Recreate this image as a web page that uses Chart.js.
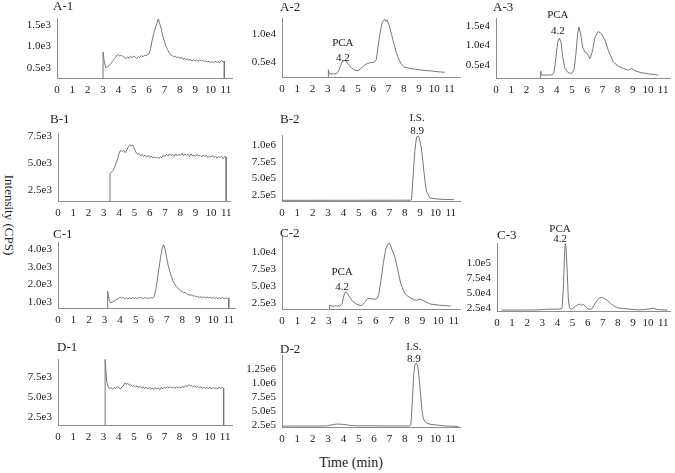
<!DOCTYPE html>
<html>
<head>
<meta charset="utf-8">
<script src="https://cdn.jsdelivr.net/npm/chart.js@4.4.0/dist/chart.umd.min.js"></script>
<style>
  html, body { margin: 0; padding: 0; background: #fff; }
  #fig { position: relative; width: 675px; height: 473px; overflow: hidden; background: #fff;
         font-family: "Liberation Serif", "DejaVu Serif", serif; color: #222; }
  #fig canvas { position: absolute; }
  .axis-title { position: absolute; white-space: nowrap; }
  #ylab { left: 9px; top: 215px; font-size: 13px; transform: translate(-50%, -50%) rotate(90deg); }
  #xlab { left: 351px; top: 463px; font-size: 14px; transform: translate(-50%, -50%); }
</style>
</head>
<body>
<div id="fig">
  <div id="ylab" class="axis-title">Intensity (CPS)</div>
  <div id="xlab" class="axis-title">Time (min)</div>
</div>
<script>
// time axis ticks (min)
const xTicks = [0, 1, 2, 3, 4, 5, 6, 7, 8, 9, 10, 11];

// 0.1 min grid for the noisy blank traces
const fineTime = [3.0, 3.1, 3.2, 3.3, 3.4, 3.5, 3.6, 3.7, 3.8, 3.9,
  4.0, 4.1, 4.2, 4.3, 4.4, 4.5, 4.6, 4.7, 4.8, 4.9,
  5.0, 5.1, 5.2, 5.3, 5.4, 5.5, 5.6, 5.7, 5.8, 5.9,
  6.0, 6.1, 6.2, 6.3, 6.4, 6.5, 6.6, 6.7, 6.8, 6.9,
  7.0, 7.1, 7.2, 7.3, 7.4, 7.5, 7.6, 7.7, 7.8, 7.9,
  8.0, 8.1, 8.2, 8.3, 8.4, 8.5, 8.6, 8.7, 8.8, 8.9,
  9.0, 9.1, 9.2, 9.3, 9.4, 9.5, 9.6, 9.7, 9.8, 9.9,
  10.0, 10.1, 10.2, 10.3, 10.4, 10.5, 10.6, 10.7, 10.8, 10.9, 11.0];

// A-1
const a1Values = [870, 600, 500, 540, 560, 600, 650, 700, 740, 800,
  810, 780, 800, 760, 740, 720, 760, 730, 770, 740,
  780, 750, 720, 770, 740, 790, 760, 800, 780, 820,
  830, 950, 1150, 1300, 1420, 1530, 1640, 1520, 1400, 1230,
  1120, 1000, 930, 860, 810, 790, 760, 780, 740, 760,
  720, 750, 700, 730, 690, 710, 680, 700, 660, 700,
  670, 690, 650, 690, 660, 680, 650, 670, 640, 660,
  630, 650, 620, 660, 630, 650, 620, 680, 640, 660, null];
const a1YTicks = [500, 1000, 1500];
const a1YLabels = ["0.5e3", "1.0e3", "1.5e3"];

// A-2
const a2Time = [3.05, 3.1, 3.4, 3.6, 3.75, 3.95, 4.1, 4.2, 4.4, 4.7, 5.0, 5.3, 5.6, 5.9, 6.05, 6.2, 6.3, 6.4, 6.5, 6.6,
  6.75, 6.82, 6.9, 7.05, 7.2, 7.35, 7.5, 7.7, 7.85, 8.0, 8.3, 8.6, 9.0, 9.4, 9.8, 10.2, 10.7];
const a2Values = [3600, 2900, 2850, 2950, 3600, 5050, 5250, 5200, 4450, 3600, 3400, 4150, 4750, 4900, 4950, 5400, 7500, 9500, 11000, 12200,
  12700, 12300, 12600, 11500, 10000, 8300, 6800, 5350, 4600, 4150, 3900, 3750, 3600, 3480, 3390, 3250, 3150];
const a2YTicks = [5000, 10000];
const a2YLabels = ["0.5e4", "1.0e4"];

// A-3
const a3Time = [2.94, 3.0, 3.4, 3.7, 3.82, 3.95, 4.06, 4.17, 4.28, 4.39, 4.54, 4.76, 4.98, 5.13, 5.26, 5.37, 5.46, 5.57, 5.7, 5.86,
  6.01, 6.18, 6.36, 6.51, 6.73, 6.95, 7.17, 7.39, 7.72, 8.05, 8.38, 8.7, 8.93, 9.14, 9.58, 10.13, 10.68];
const a3Values = [3500, 2500, 2500, 2550, 3330, 7080, 10830, 11900, 10830, 7080, 4170, 3080, 2920, 3750, 7920, 12920, 14750, 12920, 9580, 8330,
  7920, 6670, 8750, 12080, 13580, 12920, 11420, 8750, 5830, 4750, 4170, 3750, 4170, 3580, 3080, 2750, 2500];
const a3YTicks = [5000, 10000, 15000];
const a3YLabels = ["0.5e4", "1.0e4", "1.5e4"];

// B-1
const b1Values = [null, null, null, null, 4050, 4150, 4300, 4600, 5000, 5400,
  5900, 6200, 6050, 6150, 5950, 6200, 6500, 6700, 6600, 6650,
  6300, 6000, 5800, 5900, 5650, 5800, 5600, 5750, 5550, 5700,
  5500, 5650, 5450, 5600, 5450, 5550, 5400, 5600, 5500, 5750,
  5600, 5800, 5650, 5850, 5700, 5800, 5600, 5850, 5650, 5800,
  5700, 5900, 5650, 5850, 5700, 5800, 5600, 5850, 5650, 5750,
  5600, 5800, 5650, 5700, 5550, 5750, 5600, 5700, 5500, 5650,
  5550, 5700, 5500, 5650, 5450, 5600, 5500, 5650, 5400, 5600, 5550];
const b1YTicks = [2500, 5000, 7500];
const b1YLabels = ["2.5e3", "5.0e3", "7.5e3"];

// B-2
const b2Time = [0, 8.35, 8.44, 8.55, 8.65, 8.77, 8.88, 8.96, 9.1, 9.25, 9.35, 9.42, 9.64, 10.0, 10.5, 11.2];
const b2Values = [170000, 172000, 180000, 550000, 900000, 1120000, 1135000, 1100000, 925000, 600000, 400000, 300000, 207000, 192000, 185000, 180000];
const b2YTicks = [250000, 500000, 750000, 1000000];
const b2YLabels = ["2.5e5", "5.0e5", "7.5e5", "1.0e6"];

// C-1
const c1Values = [null, null, 1600, 1100, 950, 1000, 1050, 1100, 1150, 1200,
  1280, 1220, 1250, 1180, 1230, 1170, 1240, 1190, 1260, 1200,
  1250, 1180, 1270, 1210, 1250, 1190, 1260, 1200, 1240, 1210,
  1250, 1220, 1300, 1700, 2300, 2900, 3500, 4000, 4250, 4000,
  3500, 3050, 2750, 2450, 2200, 2050, 1900, 1800, 1700, 1620,
  1580, 1520, 1550, 1450, 1420, 1380, 1400, 1330, 1360, 1290,
  1330, 1260, 1300, 1240, 1290, 1230, 1280, 1220, 1270, 1210,
  1260, 1200, 1250, 1190, 1240, 1200, 1250, 1190, 1230, 1200, 1220];
const c1YTicks = [1000, 2000, 3000, 4000];
const c1YLabels = ["1.0e3", "2.0e3", "3.0e3", "4.0e3"];

// C-2
const c2Time = [3.05, 3.2, 3.5, 3.7, 3.85, 3.95, 4.05, 4.15, 4.3, 4.5, 4.8, 5.1, 5.3, 5.5, 5.7, 5.9, 6.1, 6.2, 6.35,
  6.5, 6.65, 6.8, 6.9, 7.05, 7.24, 7.4, 7.6, 7.8, 8.0, 8.2, 8.4, 8.6, 8.84, 9.1, 9.5, 10.0, 10.5, 10.8];
const c2Values = [2200, 2000, 2100, 2000, 2400, 3500, 4100, 4000, 3500, 2800, 2300, 2100, 2600, 3200, 3150, 3050, 3150, 3800, 6000,
  8500, 10500, 11200, 11300, 10300, 9200, 7500, 5400, 4200, 3600, 3300, 3000, 2900, 3100, 2800, 2350, 2200, 2100, 2050];
const c2YTicks = [2500, 5000, 7500, 10000];
const c2YLabels = ["2.5e3", "5.0e3", "7.5e3", "1.0e4"];

// C-3
const c3Time = [0.3, 2.5, 3.0, 3.5, 4.0, 4.3, 4.4, 4.47, 4.52, 4.57, 4.64, 4.72, 4.8, 4.95, 5.2, 5.45, 5.58, 5.72, 5.9, 6.1,
  6.3, 6.5, 6.7, 6.93, 7.1, 7.3, 7.5, 7.7, 7.95, 8.3, 8.6, 9.0, 9.4, 9.8, 10.1, 10.35, 10.6, 11.0, 11.3];
const c3Values = [21500, 21700, 22500, 23000, 23000, 24000, 60000, 115000, 132000, 125000, 90000, 40000, 25000, 23000, 28000, 31500, 29500, 31000, 26000, 22500,
  24000, 33000, 40000, 43000, 41000, 37500, 33000, 29000, 25500, 24000, 23500, 22500, 22000, 22500, 23500, 24500, 22500, 21800, 21500];
const c3YTicks = [25000, 50000, 75000, 100000];
const c3YLabels = ["2.5e4", "5.0e4", "7.5e4", "1.0e5"];

// D-1
const d1Values = [null, 9700, 7000, 6300, 6050, 6150, 6000, 6200, 6050, 6300,
  6150, 6000, 6250, 6400, 6750, 6600, 6700, 6450, 6550, 6300,
  6450, 6250, 6400, 6150, 6350, 6100, 6300, 6050, 6250, 6000,
  6200, 5950, 6150, 5950, 6200, 6000, 6150, 5900, 6200, 6000,
  6250, 6100, 6300, 6150, 6300, 6100, 6250, 6050, 6300, 6100,
  6250, 6100, 6350, 6200, 6450, 6300, 6550, 6400, 6450, 6250,
  6400, 6200, 6350, 6150, 6300, 6100, 6250, 6050, 6200, 6050,
  6250, 6000, 6200, 6050, 6150, 6000, 6250, 6050, 6200, 6100, null];
const d1YTicks = [2500, 5000, 7500];
const d1YLabels = ["2.5e3", "5.0e3", "7.5e3"];

// D-2
const d2Time = [0, 2.9, 3.2, 3.6, 4.0, 4.5, 5.0, 8.3, 8.4, 8.5, 8.58, 8.66, 8.75, 8.85, 8.95, 9.03, 9.12, 9.2, 9.3, 9.42, 9.7, 10.07, 10.7, 11.5];
const d2Values = [230000, 232000, 250000, 268000, 260000, 240000, 235000, 232000, 250000, 700000, 1150000, 1320000, 1360000, 1300000, 1050000, 790000, 520000, 380000, 310000, 286000, 260000, 250000, 232000, 225000];
const d2YTicks = [250000, 500000, 750000, 1000000, 1250000];
const d2YLabels = ["2.5e5", "5.0e5", "7.5e5", "1.0e6", "1.25e6"];

// layout: box = [axis x, plot top, plot right, plot bottom] in page px
const panels = [
  { title: "A-1", time: fineTime, values: a1Values, yMin: 270, yMax: 1660, yTicks: a1YTicks, yLabels: a1YLabels,
    xMax: 11.4, box: [57, 18, 232, 78], titleAt: [-4, -11], dropStart: true, dropEnd: true, notes: [] },
  { title: "A-2", time: a2Time, values: a2Values, yMin: 2300, yMax: 12900, yTicks: a2YTicks, yLabels: a2YLabels,
    xMax: 11.7, box: [282, 18, 460, 77], titleAt: [-2, -10], dropStart: true, dropEnd: false,
    notes: [{ x: 4.0, y: 5700, gap: 15, lines: ["PCA", "4.2"] }] },
  { title: "A-3", time: a3Time, values: a3Values, yMin: 1750, yMax: 17000, yTicks: a3YTicks, yLabels: a3YLabels,
    xMax: 11.45, box: [496, 18, 670, 78], titleAt: [-3, -10], dropStart: true, dropEnd: false,
    notes: [{ x: 4.07, y: 13750, gap: 16, lines: ["PCA", "4.2"] }] },
  { title: "B-1", time: fineTime, values: b1Values, yMin: 1480, yMax: 7780, yTicks: b1YTicks, yLabels: b1YLabels,
    xMax: 11.25, box: [58, 133, 230, 201], titleAt: [-8, -13], dropStart: true, dropEnd: true, notes: [] },
  { title: "B-2", time: b2Time, values: b2Values, yMin: 160000, yMax: 1150000, yTicks: b2YTicks, yLabels: b2YLabels,
    xMax: 11.6, box: [282, 135, 460, 201], titleAt: [-2, -15], dropStart: false, dropEnd: false,
    notes: [{ x: 8.8, y: 1210000, gap: 13, lines: ["I.S.", "8.9"] }] },
  { title: "C-1", time: fineTime, values: c1Values, yMin: 660, yMax: 4400, yTicks: c1YTicks, yLabels: c1YLabels,
    xMax: 11.4, box: [58, 242, 235, 308], titleAt: [-5, -7], dropStart: true, dropEnd: true, notes: [] },
  { title: "C-2", time: c2Time, values: c2Values, yMin: 1620, yMax: 12500, yTicks: c2YTicks, yLabels: c2YLabels,
    xMax: 11.4, box: [282, 235, 460, 309], titleAt: [-2, -1], dropStart: true, dropEnd: false,
    notes: [{ x: 3.85, y: 4855, gap: 15, lines: ["PCA", "4.2"] }] },
  { title: "C-3", time: c3Time, values: c3Values, yMin: 20000, yMax: 133000, yTicks: c3YTicks, yLabels: c3YLabels,
    xMax: 11.45, box: [497, 243, 670, 311], titleAt: [0, -7], dropStart: false, dropEnd: false,
    notes: [{ x: 4.17, y: 140000, gap: 10, lines: ["PCA", "4.2"] }] },
  { title: "D-1", time: fineTime, values: d1Values, yMin: 1500, yMax: 9750, yTicks: d1YTicks, yLabels: d1YLabels,
    xMax: 11.45, box: [58, 359, 232, 425], titleAt: [-1, -11], dropStart: true, dropEnd: true, notes: [] },
  { title: "D-2", time: d2Time, values: d2Values, yMin: 214000, yMax: 1500000, yTicks: d2YTicks, yLabels: d2YLabels,
    xMax: 11.6, box: [282, 355, 460, 427], titleAt: [-2, -5], dropStart: false, dropEnd: false,
    notes: [{ x: 8.6, y: 1430000, gap: 12, lines: ["I.S.", "8.9"] }] },
];

const Y_W = 50, X_H = 24, PAD_T = 26, PAD_R = 8;
const FONT = '"Liberation Serif", "DejaVu Serif", serif';
const LINE = "#777", AXIS = "#8c8c8c", TEXT = "#222";

function tracePoints(p) {
  const pts = [];
  p.time.forEach((t, i) => {
    if (p.values[i] !== null) pts.push({ x: t, y: p.values[i] });
  });
  if (p.dropStart) pts.unshift({ x: pts[0].x, y: p.yMin });
  if (p.dropEnd) pts.push({ x: pts[pts.length - 1].x, y: p.yMin });
  return pts;
}

// panel letter and peak labels, placed through the chart's scales
const panelText = {
  id: "panelText",
  afterDraw(chart, args, opts) {
    const { ctx, chartArea, scales } = chart;
    ctx.save();
    ctx.fillStyle = TEXT;
    ctx.textBaseline = "middle";
    ctx.textAlign = "left";
    ctx.font = "13px " + FONT;
    ctx.fillText(opts.title, chartArea.left + opts.titleAt[0], chartArea.top + opts.titleAt[1]);
    ctx.font = "11px " + FONT;
    ctx.textAlign = "center";
    opts.notes.forEach((n) => {
      const x = scales.x.getPixelForValue(n.x);
      const y = scales.y.getPixelForValue(n.y);
      n.lines.slice().reverse().forEach((s, i) => ctx.fillText(s, x, y - i * n.gap));
    });
    ctx.restore();
  },
};

const fig = document.getElementById("fig");

panels.forEach((p) => {
  const [l, t, r, b] = p.box;
  const W = r - l + Y_W + PAD_R;
  const H = b - t + PAD_T + X_H;
  const cv = document.createElement("canvas");
  cv.width = W;
  cv.height = H;
  cv.style.left = l - Y_W + "px";
  cv.style.top = t - PAD_T + "px";
  cv.style.width = W + "px";
  cv.style.height = H + "px";
  fig.appendChild(cv);

  new Chart(cv, {
    type: "line",
    data: {
      datasets: [{
        data: tracePoints(p),
        borderColor: LINE,
        borderWidth: 1,
        pointRadius: 0,
        tension: 0,
        fill: false,
      }],
    },
    options: {
      responsive: false,
      animation: false,
      devicePixelRatio: 1,
      layout: { padding: { top: PAD_T, right: PAD_R, left: 0, bottom: 0 } },
      plugins: {
        legend: { display: false },
        tooltip: { enabled: false },
        panelText: { title: p.title, titleAt: p.titleAt, notes: p.notes },
      },
      scales: {
        x: {
          type: "linear",
          min: 0,
          max: p.xMax,
          grid: { display: false, drawTicks: false },
          border: { display: true, color: AXIS, width: 1 },
          afterBuildTicks: (s) => { s.ticks = xTicks.map((v) => ({ value: v })); },
          afterFit: (s) => { s.height = X_H; },
          ticks: { color: TEXT, font: { family: FONT, size: 11 }, padding: 6, maxRotation: 0, autoSkip: false,
                   callback: (v) => String(v) },
        },
        y: {
          type: "linear",
          min: p.yMin,
          max: p.yMax,
          grid: { display: false, drawTicks: false },
          border: { display: true, color: AXIS, width: 1 },
          afterBuildTicks: (s) => { s.ticks = p.yTicks.map((v) => ({ value: v })); },
          afterFit: (s) => { s.width = Y_W; },
          ticks: { color: TEXT, font: { family: FONT, size: 11 }, padding: 6, autoSkip: false,
                   callback: (v) => p.yLabels[p.yTicks.indexOf(v)] },
        },
      },
    },
    plugins: [panelText],
  });
});
</script>
</body>
</html>
